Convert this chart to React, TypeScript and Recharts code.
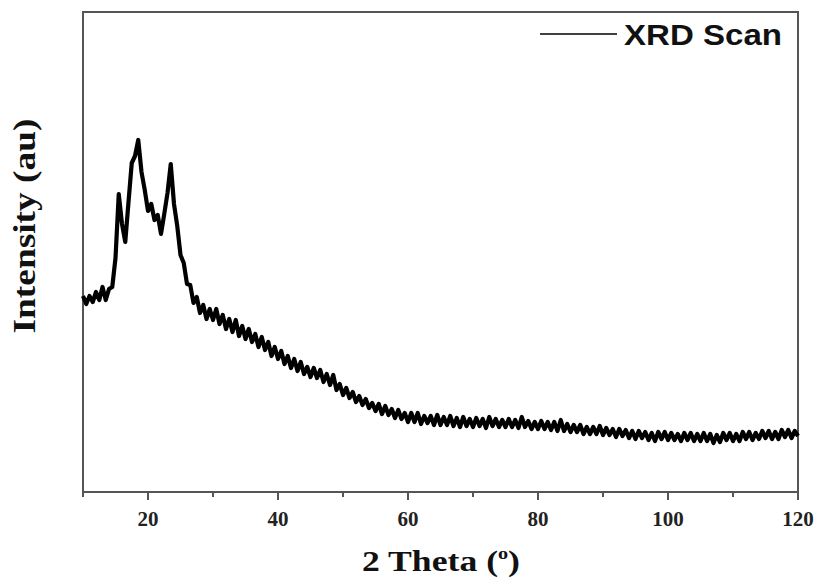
import React from "react"

import { Legend, Line, LineChart, ReferenceArea, XAxis, YAxis } from "recharts"

// 2 theta, degrees, 0.5 step
const thetaStart = 10
const thetaStep = 0.5

// intensity (au), one row per 5 degrees
const intensity: number[] = [
	196, 188, 196, 190, 200, 192, 205, 192, 203, 205,
	234, 298, 268, 250, 290, 329, 336, 352, 320, 302,
	281, 288, 272, 277, 258, 278, 299, 328, 288, 266,
	237, 229, 208, 207, 189, 195, 179, 187, 173, 183,
	172, 183, 168, 177, 163, 173, 160, 172, 156, 166,
	153, 163, 150, 158, 145, 155, 142, 150, 136, 145,
	133, 141, 128, 136, 124, 133, 121, 130, 118, 125,
	115, 124, 114, 122, 110, 118, 107, 117, 102, 108,
	97, 104, 94, 100, 90, 96, 87, 93, 84, 89,
	81, 88, 78, 86, 77, 83, 74, 82, 73, 79,
	70, 79, 70, 79, 68, 76, 69, 76, 67, 77,
	67, 75, 67, 76, 66, 74, 65, 75, 66, 73,
	65, 74, 66, 73, 64, 75, 66, 73, 65, 72,
	65, 73, 65, 72, 64, 75, 65, 71, 63, 70,
	63, 71, 63, 70, 62, 70, 61, 72, 61, 68,
	60, 67, 60, 67, 58, 65, 58, 65, 58, 66,
	57, 64, 57, 63, 55, 63, 56, 62, 54, 61,
	53, 61, 54, 60, 52, 59, 51, 60, 53, 60,
	52, 59, 52, 58, 51, 59, 52, 59, 51, 58,
	51, 59, 51, 58, 49, 57, 50, 59, 52, 59,
	51, 58, 51, 60, 53, 60, 52, 59, 53, 61,
	54, 61, 53, 60, 53, 62, 55, 62, 54, 61,
	56
]

const xTicks = [10, 20, 30, 40, 50, 60, 70, 80, 90, 100, 110, 120]
const xLabels = [20, 40, 60, 80, 100, 120]

const data = intensity.map((v, i) => ({ theta: thetaStart + i * thetaStep, y: v }))

const frame = "#555"
const serif = "'Liberation Serif', 'Times New Roman', serif"

// eslint-disable-next-line @typescript-eslint/no-explicit-any
const XTick = (props: any) => {
	const { x, y, payload } = props
	const major = xLabels.includes(payload.value)
	return (
		<g>
			<line x1={x} x2={x} y1={y} y2={y + (major ? 8 : 5)} stroke={frame} strokeWidth={2} />
			{major && (
				<text
					x={x}
					y={y + 34}
					textAnchor="middle"
					fontFamily={serif}
					fontWeight="bold"
					fontSize={21}
					fill="#222"
				>
					{payload.value}
				</text>
			)}
		</g>
	)
}

const ScanLegend = () => (
	<svg width={270} height={50}>
		<line x1={10} x2={87} y1={24} y2={24} stroke="#000" strokeWidth={1.5} />
		<text
			x={94}
			y={35}
			fontFamily="'Liberation Sans', Arial, sans-serif"
			fontWeight="bold"
			fontSize={30}
			textLength={158}
			lengthAdjust="spacingAndGlyphs"
			fill="#111"
		>
			XRD Scan
		</text>
	</svg>
)

const App = () => {
	return (
		<div style={{ position: "absolute", left: 0, top: 0, width: 817, height: 580, background: "#fff" }}>
			<LineChart
				width={817}
				height={580}
				data={data}
				margin={{ top: 12, right: 19, bottom: 58, left: 83 }}
			>
				<XAxis
					dataKey="theta"
					type="number"
					domain={[10, 120]}
					ticks={xTicks}
					interval={0}
					tick={<XTick />}
					tickLine={false}
					tickSize={0}
					tickMargin={0}
					height={30}
					axisLine={{ stroke: frame, strokeWidth: 2 }}
				/>
				<YAxis
					type="number"
					domain={[0, 480]}
					tick={false}
					tickLine={false}
					width={0}
					axisLine={false}
				/>
				<ReferenceArea
					x1={10}
					x2={120}
					y1={0}
					y2={480}
					fill="none"
					stroke={frame}
					strokeWidth={2}
					ifOverflow="visible"
				/>
				<Legend
					layout="vertical"
					align="center"
					verticalAlign="middle"
					content={<ScanLegend />}
					wrapperStyle={{ position: "absolute", left: 530, top: 10, width: 270, height: 50 }}
				/>
				<Line
					type="linear"
					dataKey="y"
					stroke="#000"
					strokeWidth={4.2}
					strokeLinejoin="round"
					dot={false}
					isAnimationActive={false}
				/>
			</LineChart>
			<svg
				width={817}
				height={580}
				style={{ position: "absolute", left: 0, top: 0, pointerEvents: "none" }}
			>
				<text
					x={441}
					y={571}
					textAnchor="middle"
					fontFamily={serif}
					fontWeight="bold"
					fontSize={30}
					textLength={158}
					lengthAdjust="spacingAndGlyphs"
					fill="#111"
				>
					2 Theta (
					<tspan fontSize={17} dy={-12}>o</tspan>
					<tspan dy={12}>)</tspan>
				</text>
				<text
					x={0}
					y={0}
					transform="translate(35 226) rotate(-90)"
					textAnchor="middle"
					fontFamily={serif}
					fontWeight="bold"
					fontSize={32}
					textLength={215}
					lengthAdjust="spacingAndGlyphs"
					fill="#111"
				>
					Intensity (au)
				</text>
			</svg>
		</div>
	)
}

export default App
